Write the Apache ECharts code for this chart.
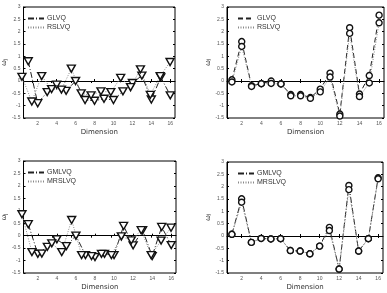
<!DOCTYPE html>
<html>
<head>
<meta charset="utf-8">
<script src="https://cdn.jsdelivr.net/npm/echarts@6/dist/echarts.min.js"></script>
<style>
html, body { margin: 0; padding: 0; background: #fff; }
#main { width: 387px; height: 293px; }
</style>
</head>
<body>
<div id="main"></div>
<script>
// dimensions 1..16 on the x axis
var dims = [1, 2, 3, 4, 5, 6, 7, 8, 9, 10, 11, 12, 13, 14, 15, 16]
var xTicks = [2, 4, 6, 8, 10, 12, 14, 16]

// top left
var glvqA = [0.8, -0.9, -0.45, -0.15, -0.4, 0.0, -0.77, -0.8, -0.72, -0.77, -0.42, -0.08, 0.22, -0.75, 0.15, -0.58]
var rslvqA = [0.17, -0.83, 0.2, -0.33, -0.35, 0.5, -0.5, -0.58, -0.42, -0.45, 0.13, -0.25, 0.47, -0.56, 0.2, 0.77]
// top right
var glvqB = [0.05, 1.6, -0.19, -0.11, 0.0, -0.12, -0.55, -0.55, -0.67, -0.33, 0.32, -1.34, 2.16, -0.53, 0.22, 2.67]
var rslvqB = [-0.04, 1.4, -0.22, -0.11, -0.1, -0.12, -0.6, -0.6, -0.7, -0.44, 0.16, -1.42, 1.93, -0.63, -0.08, 2.36]
// bottom left
var gmlvqA = [0.46, -0.73, -0.45, -0.15, -0.42, 0.0, -0.78, -0.86, -0.73, -0.78, 0.39, -0.39, 0.22, -0.82, 0.35, -0.38]
var mrslvqA = [0.86, -0.66, -0.72, -0.31, -0.66, 0.63, -0.78, -0.82, -0.73, -0.78, -0.03, -0.19, 0.22, -0.78, -0.2, 0.32]
// bottom right
var gmlvqB = [0.07, 1.51, -0.26, -0.1, -0.12, -0.11, -0.59, -0.61, -0.72, -0.41, 0.35, -1.34, 2.05, -0.61, -0.11, 2.36]
var mrslvqB = [0.07, 1.37, -0.26, -0.1, -0.12, -0.11, -0.59, -0.61, -0.72, -0.41, 0.22, -1.34, 1.88, -0.61, -0.11, 2.32]

var chart = echarts.init(document.getElementById('main'))

var panels = [
  {left: 17, top: 7, width: 158, height: 111},
  {left: 227, top: 7, width: 157, height: 111},
  {left: 17, top: 161, width: 159, height: 112},
  {left: 227, top: 162, width: 156, height: 111}
]

// down-pointing triangle, like matlab's 'v' marker
var triDown = 'path://M0,0 L10,0 L5,9 Z'

function pairs(vals) {
  return dims.map(function (d, i) { return [d, vals[i]] })
}

// every panel gets two stacked grids: the framed one with the labelled
// bottom/left axes, and an overlay one with the tick-only top/right axes
var grids = [], xAxes = [], yAxes = []
panels.forEach(function (p, i) {
  grids.push({left: p.left, top: p.top, width: p.width, height: p.height,
    show: true, borderColor: '#000', borderWidth: 1})
  grids.push({left: p.left, top: p.top, width: p.width, height: p.height, show: false})

  xAxes.push({
    type: 'value', gridIndex: i * 2, min: 0.5, max: 16.5,
    name: 'Dimension', nameLocation: 'middle', nameGap: 11,
    nameTextStyle: {fontSize: 7, color: '#333', fontFamily: 'DejaVu Sans'},
    axisLine: {show: true, lineStyle: {color: '#000'}},
    axisTick: {inside: true, length: 2, customValues: xTicks, lineStyle: {color: '#000'}},
    axisLabel: {fontSize: 5, color: '#555', margin: 3, customValues: xTicks},
    splitLine: {show: false}
  })
  xAxes.push({
    type: 'value', gridIndex: i * 2 + 1, min: 0.5, max: 16.5, position: 'top',
    axisLine: {show: false},
    axisTick: {inside: true, length: 2, customValues: xTicks, lineStyle: {color: '#000'}},
    axisLabel: {show: false}, splitLine: {show: false}
  })
  yAxes.push({
    type: 'value', gridIndex: i * 2, min: -1.5, max: 3, interval: 0.5,
    name: '{a|ω}{b|j}', nameLocation: 'middle', nameGap: 13,
    nameTextStyle: {rich: {a: {fontSize: 7, color: '#333'}, b: {fontSize: 5, color: '#333', verticalAlign: 'bottom'}}},
    axisLine: {show: true, lineStyle: {color: '#000'}},
    axisTick: {inside: true, length: 2, lineStyle: {color: '#000'}},
    axisLabel: {fontSize: 5, color: '#555', margin: 3},
    splitLine: {show: false}
  })
  yAxes.push({
    type: 'value', gridIndex: i * 2 + 1, min: -1.5, max: 3, interval: 0.5, position: 'right',
    axisLine: {show: false},
    axisTick: {inside: true, length: 2, lineStyle: {color: '#000'}},
    axisLabel: {show: false}, splitLine: {show: false}
  })
})

var dashDot = [6, 2, 1, 2]
var dashed = [5, 3]
var dotted = [1, 1.5]

// axis = index of the grid/axis pair the series sits on
function mk(name, vals, axis, dash, color, symbol) {
  return {
    type: 'line', name: name, data: pairs(vals),
    xAxisIndex: axis, yAxisIndex: axis,
    symbol: symbol,
    symbolSize: symbol == triDown ? [8, 7] : 6,
    lineStyle: {type: dash, width: 1, color: color},
    itemStyle: {color: '#fff', borderColor: '#111', borderWidth: 1.4},
    emphasis: {disabled: true}
  }
}

var series = [
  mk('GLVQ', glvqA, 0, dashDot, '#222', triDown),
  mk('RSLVQ', rslvqA, 1, dotted, '#888', triDown),
  mk('GLVQ ', glvqB, 2, dashed, '#222', 'circle'),
  mk('RSLVQ ', rslvqB, 3, dotted, '#888', 'circle'),
  mk('GMLVQ', gmlvqA, 4, dashDot, '#222', triDown),
  mk('MRSLVQ', mrslvqA, 5, dotted, '#888', triDown),
  mk('GMLVQ ', gmlvqB, 6, dashDot, '#222', 'circle'),
  mk('MRSLVQ ', mrslvqB, 7, dotted, '#888', 'circle')
]

function leg(names, p) {
  return {
    data: names,
    orient: 'vertical', left: p.left + 5, top: p.top + 3,
    itemWidth: 16, itemHeight: 6, itemGap: 2,
    itemStyle: {opacity: 0},
    textStyle: {fontSize: 7, color: '#333', padding: [0, 0, 0, -2]},
    selectedMode: false
  }
}

var option = {
  animation: false,
  grid: grids,
  xAxis: xAxes,
  yAxis: yAxes,
  legend: [
    leg(['GLVQ', 'RSLVQ'], panels[0]),
    leg(['GLVQ ', 'RSLVQ '], panels[1]),
    leg(['GMLVQ', 'MRSLVQ'], panels[2]),
    leg(['GMLVQ ', 'MRSLVQ '], panels[3])
  ],
  series: series
}

chart.setOption(option)
</script>
</body>
</html>
